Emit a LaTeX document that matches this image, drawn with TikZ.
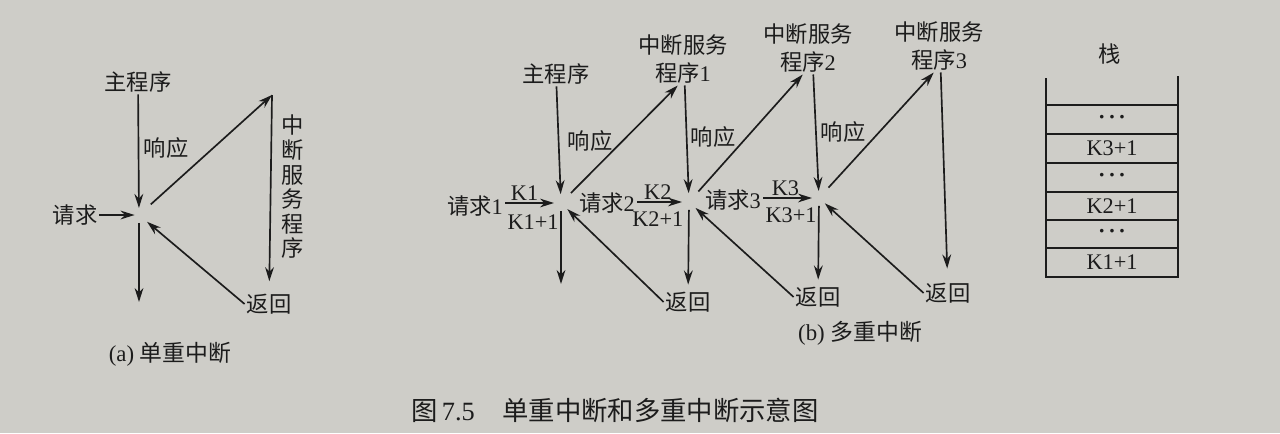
\documentclass[tikz,border=0pt]{standalone}
\usepackage{fontspec}
\setmainfont{Liberation Serif}
\newfontfamily\cjk{Noto Sans CJK SC}
\usetikzlibrary{arrows.meta}
\definecolor{paper}{RGB}{206,205,200}
\definecolor{ink}{RGB}{28,28,28}
\tikzset{
  lbl/.style={font=\fontsize{12.7}{14}\selectfont\cjk, text=ink, inner sep=1pt},
  isr/.style={font=\fontsize{12.7}{16}\selectfont\cjk, text=ink, inner sep=1pt, align=center},
  klbl/.style={font=\fontsize{12.7}{14}\selectfont, text=ink, inner sep=1pt},
  capt/.style={font=\fontsize{13}{15}\selectfont, text=ink},
  arr/.style={draw=ink, line width=0.95pt, -{Stealth[length=8pt,width=5pt]}},
  wall/.style={draw=ink, line width=0.95pt}
}
\newcommand{\stkdots}{\textbf{·\kern1.5pt·\kern1.5pt·}}
\begin{document}
\begin{tikzpicture}[x=0.02cm,y=-0.02cm]
    \fill[paper] (0,0) rectangle (1280,433);
    \useasboundingbox (0,0) rectangle (1280,433);
    % (a) single interrupt
    \node[lbl] (mainA) at (138,82) {主程序};
    \node[lbl] (reqA) at (75,215) {请求};
    \node[lbl] (retA) at (269,304) {返回};
    \node[lbl] (svcA) at (293,187) [align=center] {中\\断\\服\\务\\程\\序};
    \node[lbl] (ackA) at (166,148) {响应};
    \coordinate (jA) at (139,215);
    \coordinate (topA) at (272,95);
    \coordinate (endA) at (139,302);
    \draw[arr,shorten >=4pt] (mainA) -- (jA);
    \draw[arr,shorten >=2.5pt] (reqA) -- (jA);
    \draw[arr,shorten <=4.5pt] (jA) -- (endA);
    \draw[arr,shorten <=9pt] (jA) -- (topA);
    \draw[arr,shorten >=6pt] (topA) -- (retA);
    \draw[arr,shorten >=6pt] (retA.west) -- (jA);
    \node[capt] (capA) at (170,354) {(a) {\cjk 单重中断}};
    % (b) nested interrupts
    \node[lbl] (mainB) at (556,74) {主程序};
    \node[isr] (isr1) at (683,59) {中断服务\\程序{\normalfont 1}};
    \node[isr] (isr2) at (808,48) {中断服务\\程序{\normalfont 2}};
    \node[isr] (isr3) at (939,46) {中断服务\\程序{\normalfont 3}};
    \node[lbl] (req1) at (475,206) {请求{\normalfont 1}};
    \node[lbl] (req2) at (607,203) {请求{\normalfont 2}};
    \node[lbl] (req3) at (733,200) {请求{\normalfont 3}};
    \node[lbl] (ret1) at (688,302) {返回};
    \node[lbl] (ret2) at (818,297) {返回};
    \node[lbl] (ret3) at (948,293) {返回};
    \node[lbl] (ack1) at (590,141) {响应};
    \node[lbl] (ack2) at (713,137) {响应};
    \node[lbl] (ack3) at (843,132) {响应};
    \coordinate (j1) at (561,203);
    \coordinate (j2) at (689,202);
    \coordinate (j3) at (819,198);
    \coordinate (end1) at (561,284);
    \draw[arr,shorten >=5pt] (mainB) -- (j1);
    \draw[arr,shorten >=4pt] (req1.east |- j1) -- (j1)
        node[klbl,above,pos=.35] {K1} node[klbl,below=5pt,pos=.5] {K1+1};
    \draw[arr,shorten <=4.5pt] (j1) -- (end1);
    \draw[arr,shorten <=8pt] (j1) -- ([xshift=-3pt]isr1.south);
    \draw[arr,shorten >=5pt] ([xshift=1pt]isr1.south) -- (j2);
    \draw[arr,shorten >=4pt] (req2.east |- j2) -- (j2)
        node[klbl,above,pos=.4] {K2} node[klbl,below=4pt,pos=.4] {K2+1};
    \draw[arr,shorten <=4.5pt,shorten >=3pt] (j2) -- (ret1);
    \draw[arr,shorten >=5pt] (ret1.west) -- (j1);
    \draw[arr,shorten <=8pt] (j2) -- ([xshift=-3pt]isr2.south);
    \draw[arr,shorten >=4pt] ([xshift=3pt]isr2.south) -- (j3);
    \draw[arr,shorten >=4pt] (req3.east |- j3) -- (j3)
        node[klbl,above,pos=.4] {K3} node[klbl,below=4pt,pos=.5] {K3+1};
    \draw[arr,shorten <=4.5pt,shorten >=3pt] (j3) -- (ret2);
    \draw[arr,shorten >=5pt] (ret2.west) -- (j2);
    \draw[arr,shorten <=8pt] (j3) -- ([xshift=-3pt]isr3.south);
    \draw[arr,shorten >=7pt] ([xshift=1pt]isr3.south) -- (ret3);
    \draw[arr,shorten >=4.5pt] (ret3.west) -- (j3);
    \node[capt] (capB) at (860,333) {(b) {\cjk 多重中断}};
    % stack
    \node[lbl] (stk) at (1110,54) {栈};
    \draw[wall] (1046,78) -- (1046,277) -- (1178,277) -- (1178,76);
    \foreach \y in {105,134,163,192,220,248}
        \draw[wall] (1046,\y) -- (1178,\y);
    \foreach \y/\t [count=\i] in {119.5/\stkdots,148.5/K3+1,177.5/\stkdots,206/K2+1,234/\stkdots,262.5/K1+1}
        \node[klbl] (row\i) at (1112,\y) {\t};
    % figure caption
    \node[capt,anchor=west,font=\fontsize{15}{17}\selectfont] (fig) at (405,410)
        {{\cjk 图}\,7.5\hspace{0.55cm}{\cjk 单重中断和多重中断示意图}};
\end{tikzpicture}
\end{document}
